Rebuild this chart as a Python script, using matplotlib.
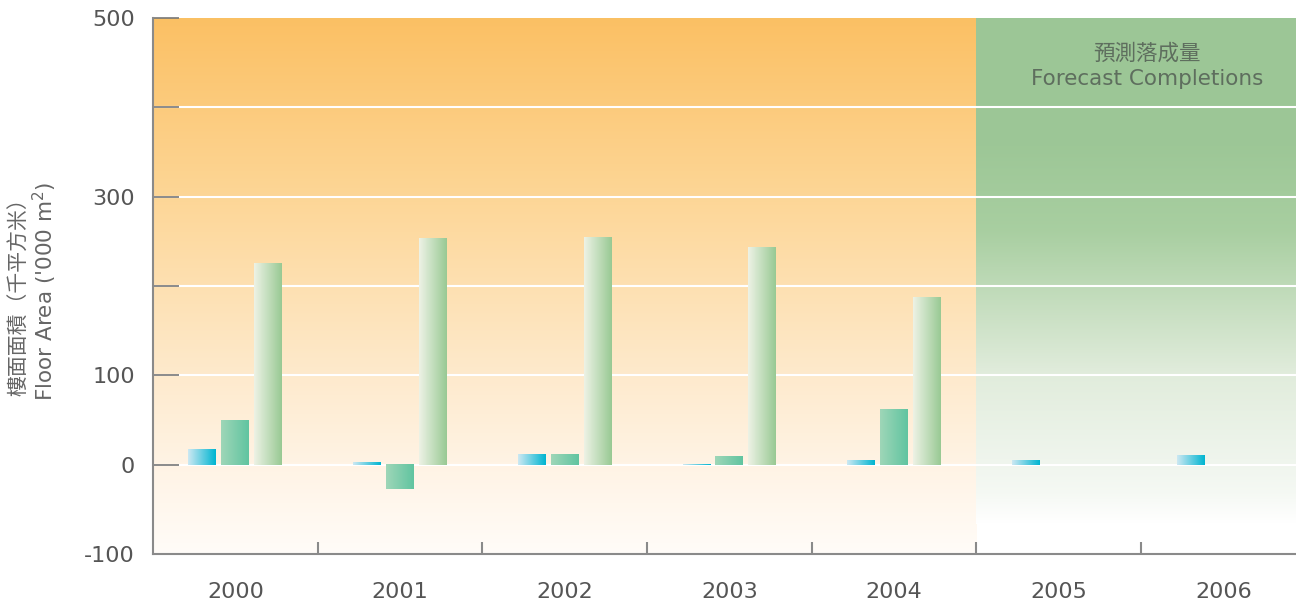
import numpy as np
import matplotlib.pyplot as plt
from matplotlib.colors import LinearSegmentedColormap

# data to plot
years = ['2000', '2001', '2002', '2003', '2004', '2005', '2006']
series_a = [17, 3, 12, 1, 5, 5, 11]        # blue bars
series_b = [50, -27, 12, 10, 62, 0, 0]     # teal bars
series_c = [225, 254, 255, 244, 187, 0, 0] # light green bars
y_ticks = [-100, 0, 100, 200, 300, 400, 500]
y_labels = ['-100', '0', '100', '', '300', '', '500']

plt.rcParams['font.family'] = ['DejaVu Sans', 'Noto Sans CJK TC']

fig = plt.figure(figsize=(12.96, 6.01), dpi=100)
ax = fig.add_axes([153 / 1296, 47 / 601, 1143 / 1296, 536 / 601])

x0, x1 = -0.5, 6.44
y0, y1 = -100, 500
split = 4.5

# background gradients
orange = LinearSegmentedColormap.from_list('orange', [
    (0.0, (1.0, 0.988, 0.973)),
    (0.17, (1.0, 0.953, 0.894)),
    (0.33, (0.996, 0.918, 0.804)),
    (0.67, (0.992, 0.839, 0.588)),
    (1.0, (0.984, 0.753, 0.392))])
green = LinearSegmentedColormap.from_list('green', [
    (0.0, (1.0, 1.0, 1.0)),
    (0.06, (0.96, 0.975, 0.955)),
    (0.3, (0.88, 0.925, 0.86)),
    (0.58, (0.66, 0.81, 0.63)),
    (0.75, (0.615, 0.78, 0.59)),
    (1.0, (0.615, 0.78, 0.59))])
grad = np.linspace(0, 1, 256).reshape(-1, 1)
ax.imshow(grad, cmap=orange, origin='lower', aspect='auto',
          extent=(x0, split, y0, y1), zorder=0)
ax.imshow(grad, cmap=green, origin='lower', aspect='auto',
          extent=(split, x1, -66, y1), zorder=0)

# white gridlines
for v in [0, 100, 200, 300, 400]:
    ax.axhline(v, color='white', lw=1.5, zorder=1)

# bars with horizontal gradients
bar_w = 0.17
offsets = [-0.2, 0.0, 0.2]
bar_maps = [
    LinearSegmentedColormap.from_list('b', [(0.80, 0.91, 0.95), (0.0, 0.71, 0.82)]),
    LinearSegmentedColormap.from_list('t', [(0.62, 0.84, 0.72), (0.38, 0.77, 0.63)]),
    LinearSegmentedColormap.from_list('g', [(0.93, 0.95, 0.90), (0.60, 0.79, 0.58)]),
]
hgrad = np.linspace(0, 1, 64).reshape(1, -1)
for vals, off, cm in zip([series_a, series_b, series_c], offsets, bar_maps):
    for i, v in enumerate(vals):
        if v == 0:
            continue
        left = i + off - bar_w / 2
        lo, hi = min(0, v), max(0, v)
        ax.imshow(hgrad, cmap=cm, aspect='auto',
                  extent=(left, left + bar_w, lo, hi), zorder=3)

ax.set_xlim(x0, x1)
ax.set_ylim(y0, y1)

# axes styling
for s in ['top', 'right']:
    ax.spines[s].set_visible(False)
for s in ['left', 'bottom']:
    ax.spines[s].set_color('#8a8a8a')
    ax.spines[s].set_linewidth(1.5)
    ax.spines[s].set_zorder(5)

ax.set_yticks(y_ticks)
ax.set_yticklabels(y_labels)
ax.tick_params(axis='y', direction='in', length=19, width=1.2, color='#777777',
               pad=13, labelsize=16, labelcolor='#555555')
ax.set_xticks(range(len(years)))
ax.set_xticklabels(years)
ax.tick_params(axis='x', which='major', length=0, pad=20, labelsize=16,
               labelcolor='#555555')
ax.set_xticks(np.arange(0.5, 6, 1), minor=True)
ax.tick_params(axis='x', which='minor', direction='in', length=9, width=1.5,
               color='#8a8a8a')
for t in ax.yaxis.get_major_ticks() + ax.xaxis.get_minor_ticks():
    t.tick1line.set_zorder(6)

# forecast annotation
ax.text(0.87, 0.934, '預測落成量', transform=ax.transAxes, ha='center',
        va='center', fontsize=15.5, color='#5e6e5e', family=['Noto Sans CJK TC'])
ax.text(0.87, 0.886, 'Forecast Completions', transform=ax.transAxes,
        ha='center', va='center', fontsize=15.5, color='#5e6e5e')

# y-axis label (two lines)
fig.text(19 / 1296, 0.515, '樓面面積（千平方米）', rotation=90, ha='center',
         va='center', fontsize=15, color='#666666', family=['Noto Sans CJK TC'])
fig.text(45 / 1296, 0.515, "Floor Area ('000 m$^2$)", rotation=90, ha='center',
         va='center', fontsize=15.5, color='#666666')

fig.savefig('out.png', dpi=100)
